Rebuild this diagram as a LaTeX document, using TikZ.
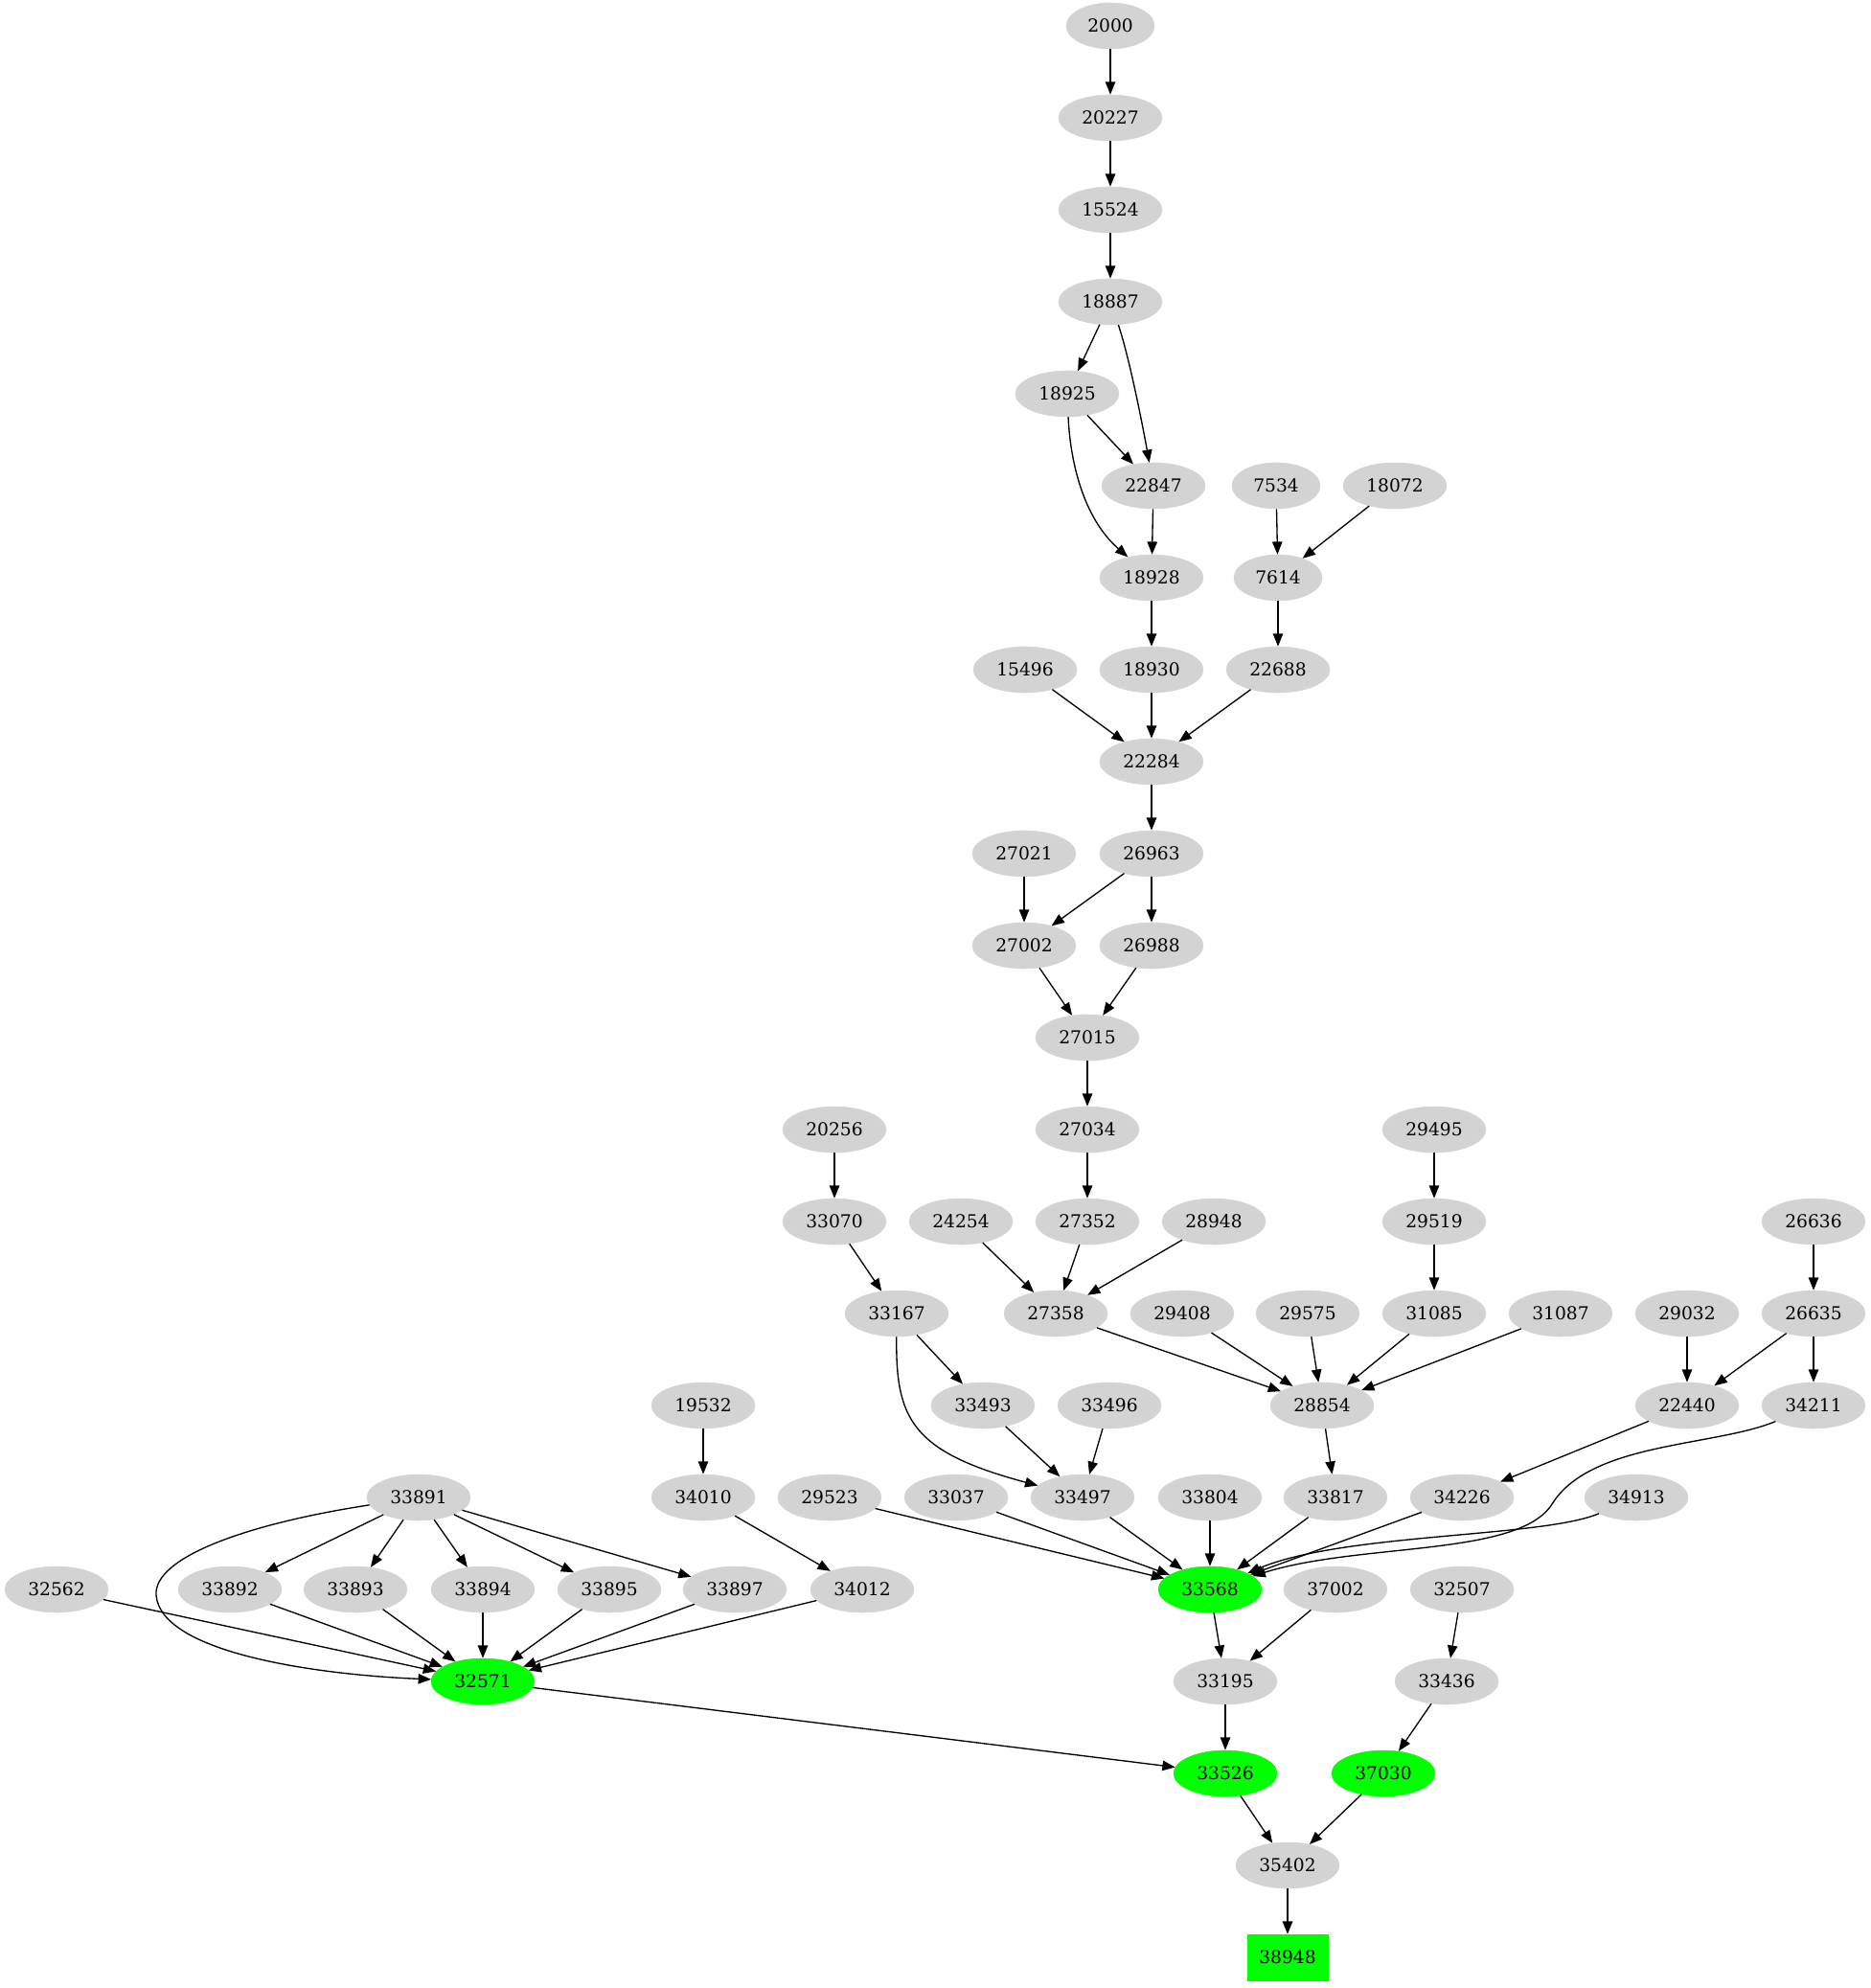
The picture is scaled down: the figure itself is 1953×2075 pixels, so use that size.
\documentclass[tikz,border=0pt]{standalone}
\usepackage{fontspec}
\setmainfont{DejaVu Serif}
\usetikzlibrary{shapes.geometric,arrows.meta}
\definecolor{lgray}{HTML}{D3D3D3}
\definecolor{gvgreen}{HTML}{00FF00}
\tikzset{
  gn/.style={ellipse,fill=lgray,draw=lgray,minimum width=81pt,minimum height=36pt,inner sep=0pt,font=\fontsize{14pt}{16pt}\selectfont},
  gf/.style={gn,minimum width=69pt},
  grn/.style={gn,fill=gvgreen,draw=gvgreen},
  gbox/.style={rectangle,fill=gvgreen,draw=gvgreen,minimum width=63pt,minimum height=36pt,inner sep=0pt,font=\fontsize{14pt}{16pt}\selectfont},
  ed/.style={-{Triangle[length=10pt,width=7.8pt]},line width=1pt,black}
}
\begin{document}
\begin{tikzpicture}[x=0.75pt,y=-0.75pt]
\useasboundingbox (0,0) rectangle (1953,2075);
% rank 0-3
\node[gf] (n2000) at (1159,27) {2000};
\node[gn] (n20227) at (1159,123) {20227};
\node[gn] (n15524) at (1159,219) {15524};
\node[gn] (n18887) at (1159,315) {18887};
% rank 4
\node[gn] (n18925) at (1114,411) {18925};
% rank 5
\node[gn] (n22847) at (1204,507) {22847};
\node[gf] (n7534) at (1332,507) {7534};
\node[gn] (n18072) at (1456,507) {18072};
% rank 6
\node[gn] (n18928) at (1202,603) {18928};
\node[gf] (n7614) at (1334,603) {7614};
% rank 7
\node[gn] (n15496) at (1070,699) {15496};
\node[gn] (n18930) at (1202,699) {18930};
\node[gn] (n22688) at (1334,699) {22688};
% rank 8
\node[gn] (n22284) at (1202,795) {22284};
% rank 9
\node[gn] (n27021) at (1069,891) {27021};
\node[gn] (n26963) at (1202,891) {26963};
% rank 10
\node[gn] (n27002) at (1069,987) {27002};
\node[gn] (n26988) at (1202,987) {26988};
% rank 11
\node[gn] (n27015) at (1135,1083) {27015};
% rank 12
\node[gn] (n20256) at (871,1179) {20256};
\node[gn] (n27034) at (1135,1179) {27034};
\node[gn] (n29495) at (1497,1179) {29495};
% rank 13
\node[gn] (n33070) at (871,1275) {33070};
\node[gn] (n24254) at (1003,1275) {24254};
\node[gn] (n27352) at (1135,1275) {27352};
\node[gn] (n28948) at (1267,1275) {28948};
\node[gn] (n29519) at (1497,1275) {29519};
\node[gn] (n26636) at (1893,1275) {26636};
% rank 14
\node[gn] (n33167) at (936,1371) {33167};
\node[gn] (n27358) at (1102,1371) {27358};
\node[gn] (n29408) at (1234,1371) {29408};
\node[gn] (n29575) at (1365,1371) {29575};
\node[gn] (n31085) at (1497,1371) {31085};
\node[gn] (n31087) at (1629,1371) {31087};
\node[gn] (n29032) at (1761,1371) {29032};
\node[gn] (n26635) at (1893,1371) {26635};
% rank 15
\node[gn] (n19532) at (734,1467) {19532};
\node[gn] (n33493) at (1026,1467) {33493};
\node[gn] (n33496) at (1158,1467) {33496};
\node[gn] (n28854) at (1380,1467) {28854};
\node[gn] (n22440) at (1761,1467) {22440};
\node[gn] (n34211) at (1893,1467) {34211};
% rank 16
\node[gn] (n33891) at (437,1563) {33891};
\node[gn] (n34010) at (734,1563) {34010};
\node[gn] (n29523) at (866,1563) {29523};
\node[gn] (n33037) at (998,1563) {33037};
\node[gn] (n33497) at (1130,1563) {33497};
\node[gn] (n33804) at (1263,1563) {33804};
\node[gn] (n33817) at (1394,1563) {33817};
\node[gn] (n34226) at (1526,1563) {34226};
\node[gn] (n34913) at (1708,1563) {34913};
% rank 17
\node[gn] (n32562) at (59,1659) {32562};
\node[gn] (n33892) at (240,1659) {33892};
\node[gn] (n33893) at (371,1659) {33893};
\node[gn] (n33894) at (504,1659) {33894};
\node[gn] (n33895) at (636,1659) {33895};
\node[gn] (n33897) at (767,1659) {33897};
\node[gn] (n34012) at (900,1659) {34012};
\node[grn] (n33568) at (1263,1659) {33568};
\node[gn] (n37002) at (1394,1659) {37002};
\node[gn] (n32507) at (1526,1659) {32507};
% rank 18
\node[grn] (n32571) at (504,1755) {32571};
\node[gn] (n33195) at (1279,1755) {33195};
\node[gn] (n33436) at (1510,1755) {33436};
% rank 19
\node[grn] (n33526) at (1279,1851) {33526};
\node[grn] (n37030) at (1444,1851) {37030};
% rank 20-21
\node[gn] (n35402) at (1344,1947) {35402};
\node[gbox] (n38948) at (1344,2043) {38948};

% edges
\draw[ed] (n2000) -- (n20227);
\draw[ed] (n20227) -- (n15524);
\draw[ed] (n15524) -- (n18887);
\draw[ed] (n18887) -- (n18925);
\draw[ed] (n18887) .. controls (1178,370) and (1192,440) .. (n22847);
\draw[ed] (n18925) -- (n22847);
\draw[ed] (n18925) .. controls (1117,480) and (1130,540) .. (n18928);
\draw[ed] (n22847) -- (n18928);
\draw[ed] (n7534) -- (n7614);
\draw[ed] (n18072) -- (n7614);
\draw[ed] (n18928) -- (n18930);
\draw[ed] (n7614) -- (n22688);
\draw[ed] (n15496) -- (n22284);
\draw[ed] (n18930) -- (n22284);
\draw[ed] (n22688) -- (n22284);
\draw[ed] (n22284) -- (n26963);
\draw[ed] (n27021) -- (n27002);
\draw[ed] (n26963) -- (n27002);
\draw[ed] (n26963) -- (n26988);
\draw[ed] (n27002) -- (n27015);
\draw[ed] (n26988) -- (n27015);
\draw[ed] (n27015) -- (n27034);
\draw[ed] (n27034) -- (n27352);
\draw[ed] (n20256) -- (n33070);
\draw[ed] (n29495) -- (n29519);
\draw[ed] (n24254) -- (n27358);
\draw[ed] (n27352) -- (n27358);
\draw[ed] (n28948) -- (n27358);
\draw[ed] (n33070) -- (n33167);
\draw[ed] (n29519) -- (n31085);
\draw[ed] (n26636) -- (n26635);
\draw[ed] (n27358) -- (n28854);
\draw[ed] (n29408) -- (n28854);
\draw[ed] (n29575) -- (n28854);
\draw[ed] (n31085) -- (n28854);
\draw[ed] (n31087) -- (n28854);
\draw[ed] (n29032) -- (n22440);
\draw[ed] (n26635) -- (n22440);
\draw[ed] (n26635) -- (n34211);
\draw[ed] (n33167) -- (n33493);
\draw[ed] (n33167) .. controls (935,1480) and (950,1515) .. (n33497);
\draw[ed] (n33493) -- (n33497);
\draw[ed] (n33496) -- (n33497);
\draw[ed] (n19532) -- (n34010);
\draw[ed] (n28854) -- (n33817);
\draw[ed] (n22440) -- (n34226);
\draw[ed] (n34211) .. controls (1790,1510) and (1660,1505) .. (1620,1570) .. controls (1585,1625) and (1420,1610) .. (n33568);
\draw[ed] (n29523) -- (n33568);
\draw[ed] (n33037) -- (n33568);
\draw[ed] (n33497) -- (n33568);
\draw[ed] (n33804) -- (n33568);
\draw[ed] (n33817) -- (n33568);
\draw[ed] (n34226) -- (n33568);
\draw[ed] (n34913) .. controls (1610,1605) and (1400,1600) .. (n33568);
\draw[ed] (n33891) -- (n33892);
\draw[ed] (n33891) -- (n33893);
\draw[ed] (n33891) -- (n33894);
\draw[ed] (n33891) -- (n33895);
\draw[ed] (n33891) -- (n33897);
\draw[ed] (n33891) .. controls (260,1590) and (160,1625) .. (163,1665) .. controls (168,1725) and (330,1748) .. (n32571);
\draw[ed] (n34010) -- (n34012);
\draw[ed] (n32562) -- (n32571);
\draw[ed] (n33892) -- (n32571);
\draw[ed] (n33893) -- (n32571);
\draw[ed] (n33894) -- (n32571);
\draw[ed] (n33895) -- (n32571);
\draw[ed] (n33897) -- (n32571);
\draw[ed] (n34012) -- (n32571);
\draw[ed] (n33568) -- (n33195);
\draw[ed] (n37002) -- (n33195);
\draw[ed] (n32507) -- (n33436);
\draw[ed] (n32571) -- (n33526);
\draw[ed] (n33195) -- (n33526);
\draw[ed] (n33436) -- (n37030);
\draw[ed] (n33526) -- (n35402);
\draw[ed] (n37030) -- (n35402);
\draw[ed] (n35402) -- (n38948);
\end{tikzpicture}
\end{document}
